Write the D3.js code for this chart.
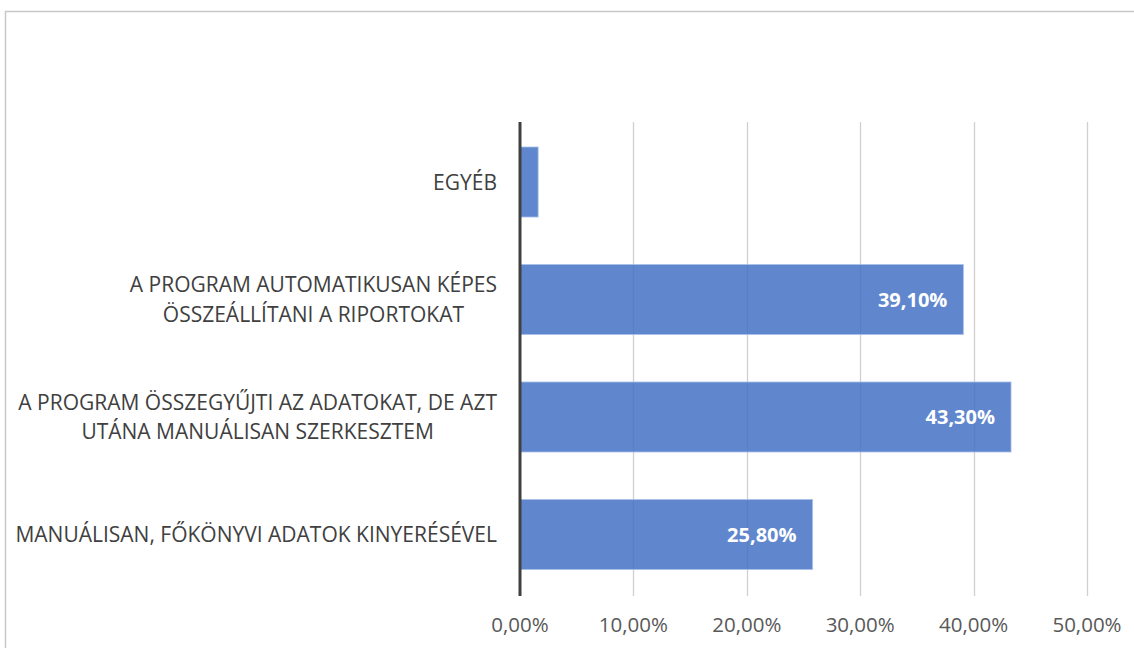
<!DOCTYPE html>
<html>
<head>
<meta charset="utf-8">
<script src="https://cdn.jsdelivr.net/npm/d3@7"></script>
<style>
  html, body { margin: 0; padding: 0; background: #fff; }
  svg { display: block; }
</style>
</head>
<body>
<svg id="chart" width="1134" height="648"></svg>
<script>
// ---- data ----
const categories = [
  ["EGYÉB"],
  ["A PROGRAM AUTOMATIKUSAN KÉPES", "ÖSSZEÁLLÍTANI A RIPORTOKAT"],
  ["A PROGRAM ÖSSZEGYŰJTI AZ ADATOKAT, DE AZT", "UTÁNA MANUÁLISAN SZERKESZTEM"],
  ["MANUÁLISAN, FŐKÖNYVI ADATOK KINYERÉSÉVEL"]
];
const values = [0.016, 0.391, 0.433, 0.258];
const valueLabels = ["", "39,10%", "43,30%", "25,80%"];
const tickValues = [0, 0.1, 0.2, 0.3, 0.4, 0.5];
const tickLabels = ["0,00%", "10,00%", "20,00%", "30,00%", "40,00%", "50,00%"];

const svg = d3.select("#chart");
const font = "'Open Sans', 'Noto Sans', sans-serif";

// chart border
svg.append("rect")
  .attr("x", 5.5).attr("y", 11.5).attr("width", 1200).attr("height", 700)
  .attr("fill", "none").attr("stroke", "#c8c8c8").attr("stroke-width", 1.5);

const plotTop = 122, plotBottom = 593, axisX = 520;
const x = d3.scaleLinear().domain([0, 0.5]).range([axisX, 1087]);
const keys = categories.map((c, i) => i);
const y = d3.scaleBand().domain(keys).range([plotTop + 1.5, plotBottom])
  .paddingInner(0.404).paddingOuter(0.2);

// gridlines
svg.append("g").selectAll("line").data(tickValues.slice(1)).join("line")
  .attr("x1", d => Math.round(x(d)) + 0.5).attr("x2", d => Math.round(x(d)) + 0.5)
  .attr("y1", plotTop).attr("y2", plotBottom + 3)
  .attr("stroke", "#d0d0d0").attr("stroke-width", 1.3);

// bars
svg.append("g").selectAll("rect").data(values).join("rect")
  .attr("x", x(0))
  .attr("y", (d, i) => y(i))
  .attr("width", d => x(d) - x(0))
  .attr("height", y.bandwidth())
  .attr("fill", "#4472c4").attr("fill-opacity", 0.85)
  .attr("stroke", "#a9c0ea").attr("stroke-width", 1).attr("stroke-opacity", 0.8);

// vertical axis line
svg.append("line")
  .attr("x1", axisX).attr("x2", axisX)
  .attr("y1", plotTop).attr("y2", plotBottom + 3)
  .attr("stroke", "#404040").attr("stroke-width", 3);

// x tick labels
svg.append("g").selectAll("text").data(tickValues).join("text")
  .attr("x", d => x(d)).attr("y", 632)
  .attr("text-anchor", "middle")
  .attr("font-family", font).attr("font-size", 20.5)
  .attr("fill", "#595959")
  .text((d, i) => tickLabels[i]);

// category labels
const catSize = 21, lineGap = 29.5, labelRight = 497;
categories.forEach((lines, i) => {
  const cy = y(i) + y.bandwidth() / 2;
  const g = svg.append("g");
  const texts = lines.map((t, j) => g.append("text")
    .attr("y", cy + 7.5 + (j - (lines.length - 1) / 2) * lineGap)
    .attr("text-anchor", "middle")
    .attr("font-family", font).attr("font-size", catSize)
    .attr("fill", "#404040")
    .text(t));
  const maxW = d3.max(texts, t => t.node().getComputedTextLength());
  texts.forEach(t => t.attr("x", labelRight - maxW / 2));
});

// value labels
svg.append("g").selectAll("text").data(values).join("text")
  .attr("x", d => x(d) - 16)
  .attr("y", (d, i) => y(i) + y.bandwidth() / 2 + 7.5)
  .attr("text-anchor", "end")
  .attr("font-family", font).attr("font-size", 20).attr("font-weight", "bold")
  .attr("fill", "#ffffff")
  .text((d, i) => valueLabels[i]);
</script>
</body>
</html>
